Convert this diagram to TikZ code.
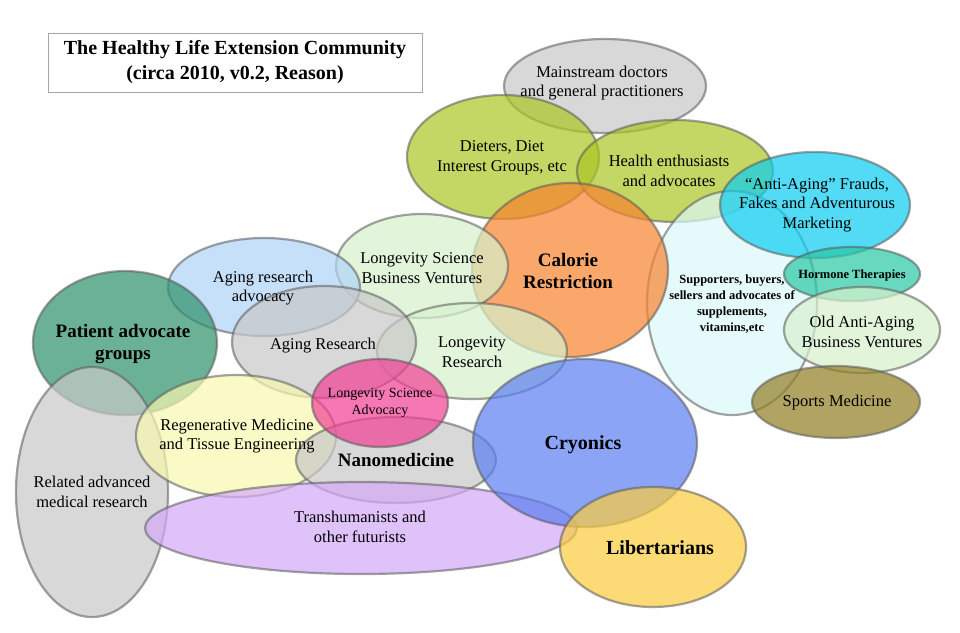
\documentclass[tikz,border=0pt]{standalone}
\usepackage{fontspec}
\setmainfont{Liberation Serif}
\usetikzlibrary{shapes.geometric}

\definecolor{grayblob}{RGB}{200,200,200}
\definecolor{ygreen}{RGB}{171,198,34}
\definecolor{orangeb}{RGB}{248,131,45}
\definecolor{cyanb}{RGB}{10,205,241}
\definecolor{tealb}{RGB}{40,200,165}
\definecolor{palegreen}{RGB}{214,241,205}
\definecolor{palecyan}{RGB}{219,249,249}
\definecolor{oliveb}{RGB}{145,126,34}
\definecolor{lblue}{RGB}{176,211,248}
\definecolor{dgreen}{RGB}{45,145,105}
\definecolor{pyellow}{RGB}{248,248,176}
\definecolor{pinkb}{RGB}{241,62,148}
\definecolor{purpleb}{RGB}{212,169,248}
\definecolor{blueb}{RGB}{91,126,241}
\definecolor{yellowb}{RGB}{251,205,62}

\begin{document}
\begin{tikzpicture}[x=1pt,y=-1pt]
	\tikzset{blob/.style={ellipse,inner sep=0pt,fill opacity=0.7,draw=black!65,draw opacity=0.55,line width=2.2pt},
		lbl/.style={align=center,text=black,font=\rmfamily\fontsize{16.5}{19.5}\selectfont},
		bigl/.style={align=center,text=black,font=\rmfamily\fontsize{20}{22}\selectfont\bfseries}}
	\useasboundingbox[fill=white] (0,0) rectangle (960,632);
	\node[blob,fill=grayblob,minimum width=202,minimum height=94] (docs) at (605,86) {};
	\node[blob,fill=ygreen,minimum width=192,minimum height=124] (diet) at (503,157) {};
	\node[blob,fill=ygreen,minimum width=196,minimum height=102] (health) at (675,171) {};
	\node[blob,fill=palecyan,minimum width=170,minimum height=224] (supp) at (732,303) {};
	\node[blob,fill=cyanb,minimum width=190,minimum height=106] (fraud) at (815,205) {};
	\node[blob,fill=tealb,minimum width=136,minimum height=54] (hormone) at (852,274) {};
	\node[blob,fill=palegreen,minimum width=156,minimum height=86] (oldbiz) at (862,330) {};
	\node[blob,fill=oliveb,minimum width=168,minimum height=72] (sports) at (836,402) {};
	\node[blob,fill=orangeb,minimum width=196,minimum height=174] (calorie) at (570,270) {};
	\node[blob,fill=palegreen,minimum width=172,minimum height=104] (lsbiz) at (422,266) {};
	\node[blob,fill=palegreen,minimum width=190,minimum height=96] (lres) at (472,351) {};
	\node[blob,fill=lblue,minimum width=192,minimum height=98] (advoc) at (264,287) {};
	\node[blob,fill=grayblob,minimum width=184,minimum height=112] (agres) at (324,342) {};
	\node[blob,fill=dgreen,minimum width=184,minimum height=144] (patient) at (125,343) {};
	\node[blob,fill=grayblob,minimum width=152,minimum height=250] (related) at (92,492) {};
	\node[blob,fill=pyellow,minimum width=200,minimum height=122] (regen) at (236,436) {};
	\node[blob,fill=grayblob,minimum width=200,minimum height=86] (nano) at (396,460) {};
	\node[blob,fill=pinkb,minimum width=136,minimum height=88] (lsadv) at (380,403) {};
	\node[blob,fill=purpleb,minimum width=432,minimum height=92] (trans) at (361,528) {};
	\node[blob,fill=blueb,minimum width=224,minimum height=168] (cryo) at (585,443) {};
	\node[blob,fill=yellowb,minimum width=186,minimum height=120] (liber) at (653,547) {};

	\node[draw=black!35,fill=white,line width=0.8pt,minimum width=374,minimum height=59,align=center,
		font=\rmfamily\fontsize{20}{25}\selectfont\bfseries] (title) at (235,62.5)
		{The Healthy Life Extension Community\\(circa 2010, v0.2, Reason)};

	\node[lbl] (tdocs) at (602,83) {Mainstream doctors\\and general practitioners};
	\node[lbl] (tdiet) at (502,158) {Dieters, Diet\\Interest Groups, etc};
	\node[lbl] (thealth) at (669,171) {Health enthusiasts\\and advocates};
	\node[lbl] (tfraud) at (817,205) {“Anti-Aging” Frauds,\\Fakes and Adventurous\\Marketing};
	\node[lbl,font=\rmfamily\fontsize{12.5}{14}\selectfont\bfseries] (thormone) at (852,275) {Hormone Therapies};
	\node[lbl] (toldbiz) at (862,332) {Old Anti-Aging\\Business Ventures};
	\node[lbl] (tsports) at (837,403) {Sports Medicine};
	\node[lbl,font=\rmfamily\fontsize{12.5}{16}\selectfont\bfseries] (tsupp) at (732,304)
		{Supporters, buyers,\\sellers and advocates of\\supplements,\\vitamins,etc};
	\node[bigl,font=\rmfamily\fontsize{19}{22}\selectfont\bfseries] (tcalorie) at (568,271) {Calorie\\Restriction};
	\node[lbl] (tlsbiz) at (422,268) {Longevity Science\\Business Ventures};
	\node[lbl] (tlres) at (472,352) {Longevity\\Research};
	\node[lbl] (tadvoc) at (263,288) {Aging research\\advocacy};
	\node[lbl] (tagres) at (323,346) {Aging Research};
	\node[bigl,font=\rmfamily\fontsize{19}{22}\selectfont\bfseries] (tpatient) at (123,344) {Patient advocate\\groups};
	\node[lbl,font=\rmfamily\fontsize{14}{17}\selectfont] (tlsadv) at (380,403) {Longevity Science\\Advocacy};
	\node[lbl] (tregen) at (237,436) {Regenerative Medicine\\and Tissue Engineering};
	\node[bigl,font=\rmfamily\fontsize{19}{22}\selectfont\bfseries] (tnano) at (396,460) {Nanomedicine};
	\node[lbl] (trelated) at (92,492) {Related advanced\\medical research};
	\node[lbl] (ttrans) at (360,527) {Transhumanists and\\other futurists};
	\node[bigl] (tcryo) at (583,445) {Cryonics};
	\node[bigl] (tliber) at (660,548) {Libertarians};
\end{tikzpicture}
\end{document}
